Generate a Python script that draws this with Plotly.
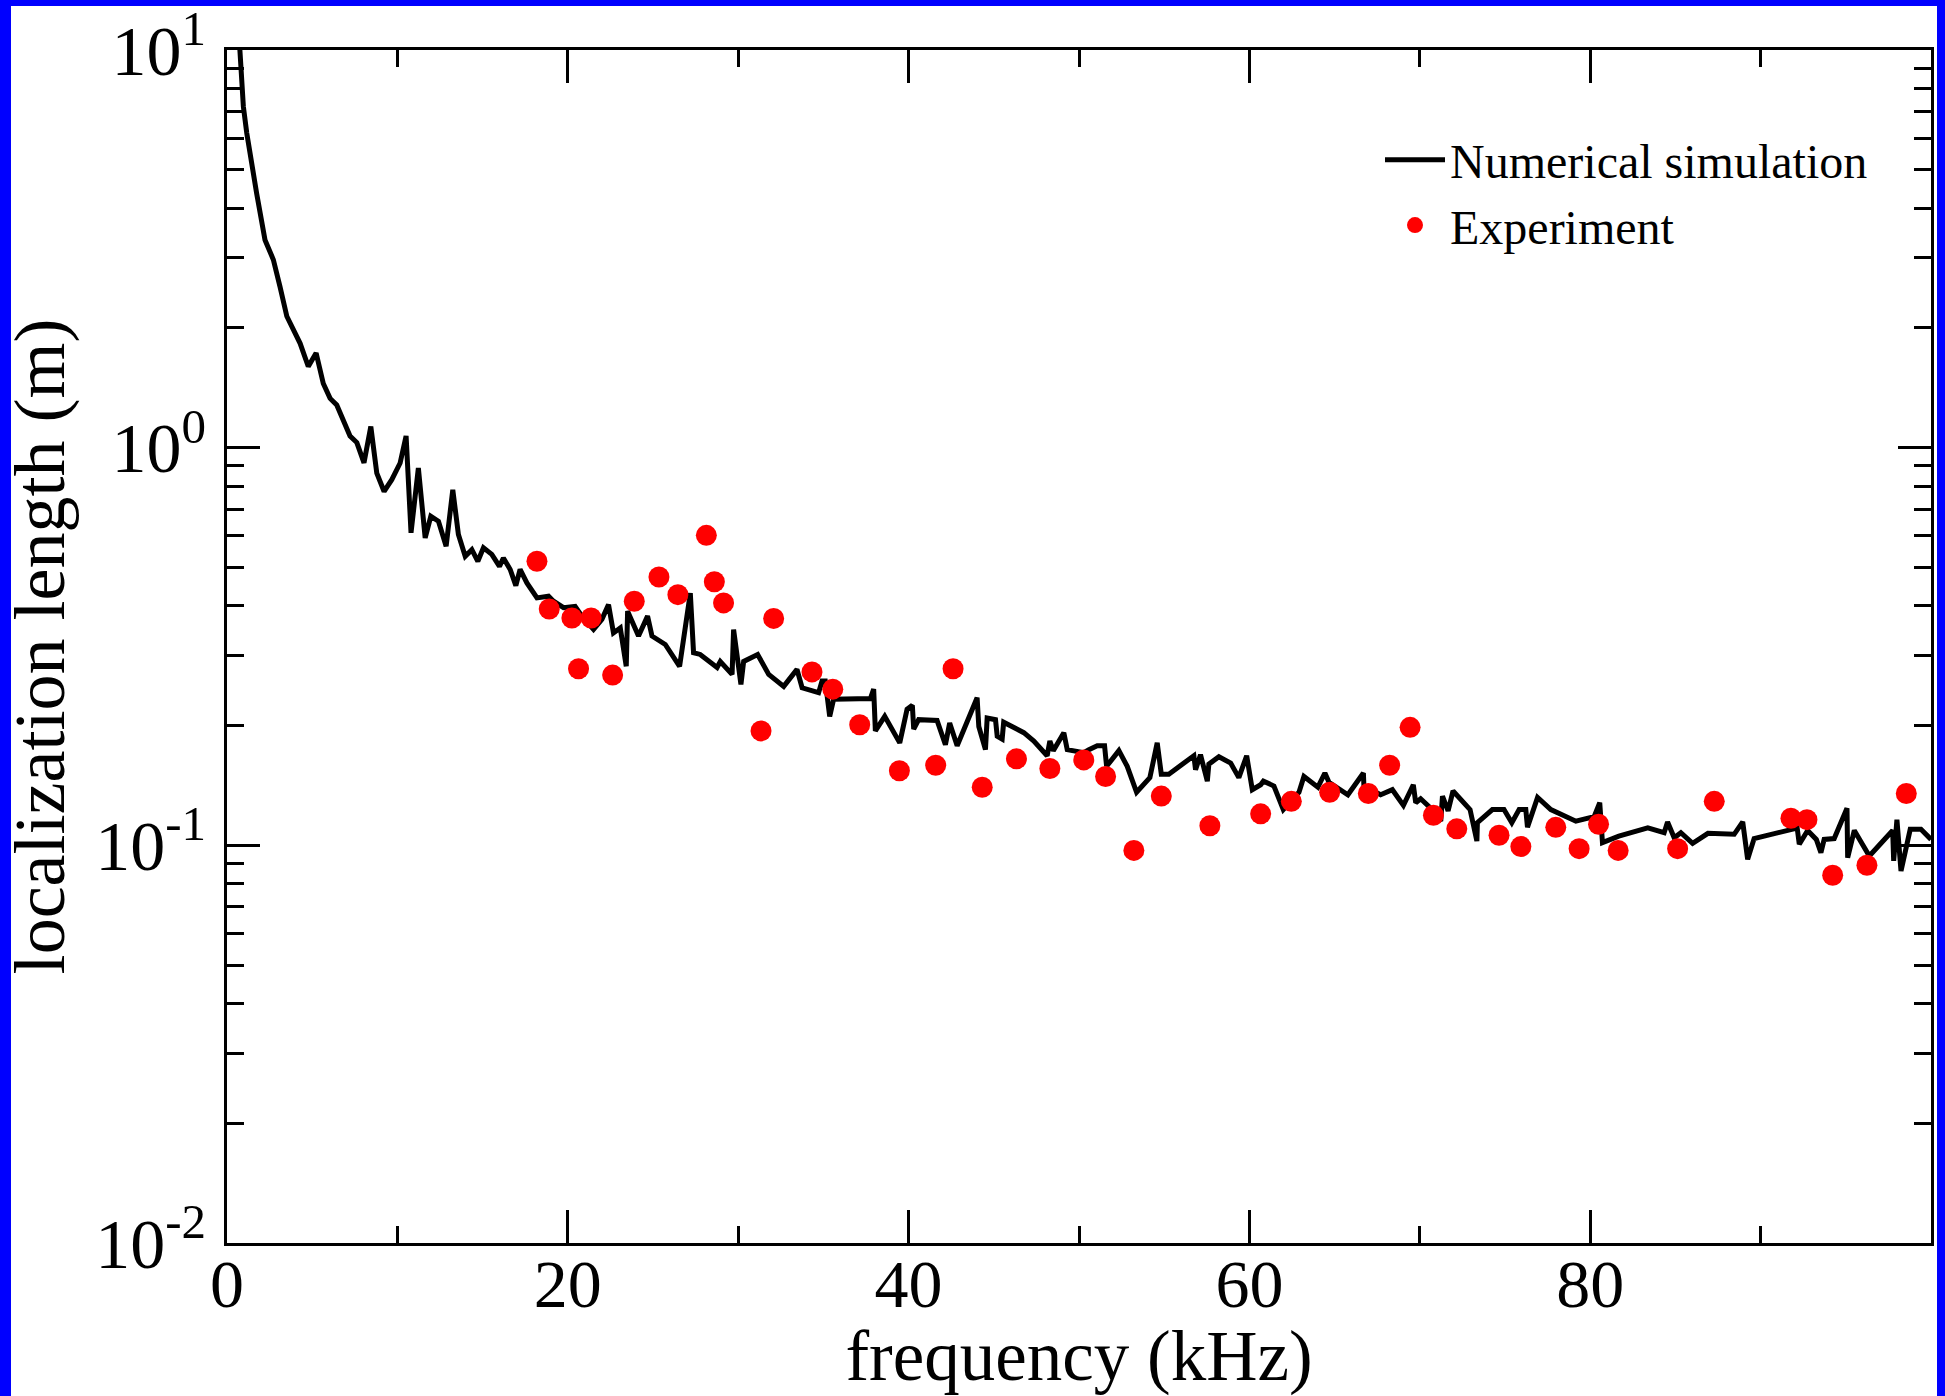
import plotly.graph_objects as go

# ---------------- data ----------------
sim_freq = [0.72, 0.96, 1.16, 1.45, 1.74, 2.23, 2.72, 3.11, 3.51, 4.29, 4.77, 5.23, 5.65, 6.05, 6.44,
            7.22, 7.62, 8.04, 8.44, 8.79, 9.22, 9.67, 10.16, 10.51, 10.80, 11.23, 11.63, 11.96, 12.41,
            12.86, 13.25, 13.58, 13.98, 14.37, 14.72, 15.05, 15.54, 15.99, 16.22, 16.62, 16.95, 17.20,
            17.60, 18.19, 18.87, 19.16, 19.75, 20.43, 20.83, 21.51, 22.00, 22.39, 22.68, 23.08, 23.43,
            23.51, 24.15, 24.68, 24.94, 25.72, 26.56, 27.19, 27.38, 27.77, 28.76, 28.95, 29.64, 29.73,
            30.16, 30.32, 31.14, 31.79, 32.67, 33.45, 33.75, 34.72, 34.92, 35.11, 35.37, 35.60, 36.19,
            37.76, 37.95, 38.05, 38.60, 39.48, 39.91, 40.22, 40.30, 40.59, 41.67, 42.16, 42.41, 42.85,
            44.02, 44.12, 44.51, 44.61, 45.10, 45.20, 45.49, 45.58, 46.76, 47.35, 48.13, 48.29, 48.49,
            49.11, 49.31, 50.28, 50.58, 51.07, 51.50, 51.62, 52.34, 52.83, 53.38, 54.16, 54.59, 54.83,
            55.27, 56.74, 56.84, 57.13, 57.53, 57.62, 58.21, 58.90, 59.38, 59.84, 60.17, 60.66, 60.82,
            61.44, 61.99, 62.91, 63.20, 64.02, 64.43, 64.67, 65.78, 66.69, 66.72, 67.70, 68.39, 69.04,
            69.62, 69.76, 70.05, 70.64, 71.23, 71.33, 71.66, 71.95, 72.95, 73.35, 73.38, 74.26, 74.94,
            75.40, 75.83, 76.22, 76.32, 76.91, 77.69, 79.16, 80.23, 80.56, 80.72, 81.68, 83.38, 84.34,
            84.54, 84.93, 85.32, 86.01, 86.91, 88.45, 88.95, 89.24, 89.62, 91.97, 92.13, 92.27, 92.76,
            93.27, 93.54, 93.73, 94.32, 95.07, 95.11, 95.50, 96.38, 97.75, 97.81, 98.00, 98.24, 98.78,
            99.41, 100.0]
sim_length = [10.6, 7.21, 6.18, 5.09, 4.36, 3.33, 2.97, 2.54, 2.14, 1.83, 1.60, 1.73, 1.45, 1.33, 1.28,
              1.07, 1.03, 0.916, 1.13, 0.863, 0.776, 0.831, 0.915, 1.07, 0.611, 0.889, 0.593, 0.672, 0.653,
              0.565, 0.784, 0.605, 0.533, 0.554, 0.518, 0.560, 0.539, 0.503, 0.528, 0.494, 0.450, 0.494,
              0.457, 0.419, 0.423, 0.411, 0.396, 0.399, 0.377, 0.349, 0.370, 0.403, 0.342, 0.352, 0.282,
              0.388, 0.336, 0.377, 0.336, 0.320, 0.282, 0.431, 0.305, 0.302, 0.280, 0.290, 0.269, 0.349,
              0.254, 0.290, 0.302, 0.269, 0.251, 0.277, 0.249, 0.242, 0.259, 0.259, 0.211, 0.233, 0.233,
              0.234, 0.247, 0.194, 0.211, 0.181, 0.220, 0.225, 0.196, 0.207, 0.206, 0.179, 0.203, 0.178,
              0.235, 0.199, 0.174, 0.209, 0.207, 0.188, 0.185, 0.204, 0.192, 0.183, 0.168, 0.183, 0.173,
              0.192, 0.174, 0.171, 0.174, 0.178, 0.178, 0.158, 0.173, 0.158, 0.136, 0.148, 0.181, 0.151,
              0.151, 0.168, 0.155, 0.169, 0.145, 0.160, 0.167, 0.161, 0.148, 0.168, 0.138, 0.142, 0.145,
              0.141, 0.123, 0.136, 0.149, 0.140, 0.152, 0.144, 0.134, 0.152, 0.141, 0.134, 0.138, 0.126,
              0.142, 0.128, 0.131, 0.124, 0.115, 0.133, 0.122, 0.137, 0.123, 0.1025, 0.114, 0.123, 0.123,
              0.114, 0.123, 0.123, 0.111, 0.132, 0.123, 0.115, 0.118, 0.128, 0.1016, 0.1055, 0.1107, 0.1076,
              0.1145, 0.1045, 0.1076, 0.1011, 0.1072, 0.1066, 0.1145, 0.0922, 0.104, 0.110, 0.112, 0.1006, 0.109,
              0.1035, 0.0959, 0.1035, 0.104, 0.124, 0.0931, 0.109, 0.094, 0.109, 0.0914, 0.116, 0.0862, 0.1097,
              0.1097, 0.1035]

exp_freq = [18.19, 18.91, 20.24, 20.63, 21.37, 22.63, 23.90, 25.35, 26.46, 28.13, 28.60, 29.14,
            31.34, 32.08, 34.33, 35.55, 37.13, 39.46, 41.59, 42.61, 44.32, 46.33, 48.29, 50.28,
            51.56, 53.22, 54.83, 57.68, 60.66, 62.46, 64.71, 66.98, 68.23, 69.43, 70.80, 72.17,
            74.65, 75.93, 77.98, 79.35, 80.49, 81.64, 85.13, 87.28, 91.78, 92.72, 94.23, 96.24, 98.55]
exp_length = [0.518, 0.393, 0.373, 0.278, 0.373, 0.268, 0.411, 0.473, 0.427, 0.602, 0.460, 0.407,
              0.194, 0.372, 0.273, 0.247, 0.201, 0.154, 0.159, 0.278, 0.140, 0.165, 0.156, 0.164,
              0.149, 0.0971, 0.133, 0.112, 0.120, 0.129, 0.136, 0.135, 0.159, 0.198, 0.119, 0.110,
              0.106, 0.0993, 0.111, 0.0981, 0.113, 0.0971, 0.0981, 0.129, 0.117, 0.116, 0.0841, 0.0891, 0.135]

x_tickvals = [0, 20, 40, 60, 80]
x_ticktext = ["0", "20", "40", "60", "80"]
x_minor = [10, 30, 50, 70, 90]
y_tickvals = [0.01, 0.1, 1, 10]
y_ticktext = ["10<sup>-2</sup>", "10<sup>-1</sup>", "10<sup>0</sup>", "10<sup>1</sup>"]
y_minor = [m * d for d in (0.01, 0.1, 1) for m in range(2, 10)]

# ---------------- figure ----------------
W, H = 1945, 1396
ML, MR, MT, MB = 227, 14, 50, 153
PW, PH = W - ML - MR, H - MT - MB
FONT = "Liberation Serif, Times New Roman, serif"

fig = go.Figure()
fig.add_trace(go.Scatter(x=sim_freq, y=sim_length, mode="lines", name="Numerical simulation",
                         line=dict(color="black", width=5)))
fig.add_trace(go.Scatter(x=exp_freq, y=exp_length, mode="markers", name="Experiment",
                         marker=dict(color="#ff0000", size=21, line=dict(width=0))))

axis_common = dict(showline=True, linecolor="black", linewidth=3, mirror="allticks",
                   ticks="inside", tickcolor="black", tickwidth=3, ticklen=33,
                   showgrid=False, zeroline=False)

fig.update_xaxes(range=[0, 100], tickmode="array", tickvals=x_tickvals, ticktext=x_ticktext,
                 tickfont=dict(family=FONT, size=68, color="black"),
                 minor=dict(tickmode="array", tickvals=x_minor, ticks="inside", ticklen=17,
                            tickwidth=3, tickcolor="black", showgrid=False),
                 ticklabelstandoff=-21,
                 title=dict(text="frequency (kHz)", font=dict(family=FONT, size=71, color="black"),
                            standoff=22),
                 **axis_common)
fig.update_yaxes(type="log", range=[-2, 1], tickmode="array", tickvals=y_tickvals, ticktext=y_ticktext,
                 tickfont=dict(family=FONT, size=70, color="black"),
                 minor=dict(tickmode="array", tickvals=y_minor, ticks="inside", ticklen=17,
                            tickwidth=3, tickcolor="black", showgrid=False),
                 ticklabelstandoff=4,
                 title=dict(text="localization length (m)", font=dict(family=FONT, size=72, color="black"),
                            standoff=30),
                 **axis_common)

def px_x(p):
    return (p - ML) / PW

def px_y(p):
    return (H - MB - p) / PH

# blue frame around the picture (left, top, right)
for x0, x1, y0, y1 in [(0, 11, 0, H), (0, W, 0, 6), (1937, W, 0, H)]:
    fig.add_shape(type="rect", xref="paper", yref="paper",
                  x0=px_x(x0), x1=px_x(x1), y0=px_y(y1), y1=px_y(y0),
                  fillcolor="#0000ff", line=dict(width=0), layer="above")

fig.update_layout(
    width=W, height=H,
    margin=dict(l=ML, r=MR, t=MT, b=MB, autoexpand=False),
    paper_bgcolor="white", plot_bgcolor="white",
    font=dict(family=FONT, color="black"),
    showlegend=True,
    legend=dict(x=px_x(1380), y=px_y(122), xanchor="left", yanchor="top",
                font=dict(family=FONT, size=48, color="black"),
                bgcolor="rgba(0,0,0,0)", borderwidth=0, itemwidth=60, tracegroupgap=0),
)

fig.write_html("out.html", config={"displayModeBar": False},
               post_script="document.body.style.margin='0';")
